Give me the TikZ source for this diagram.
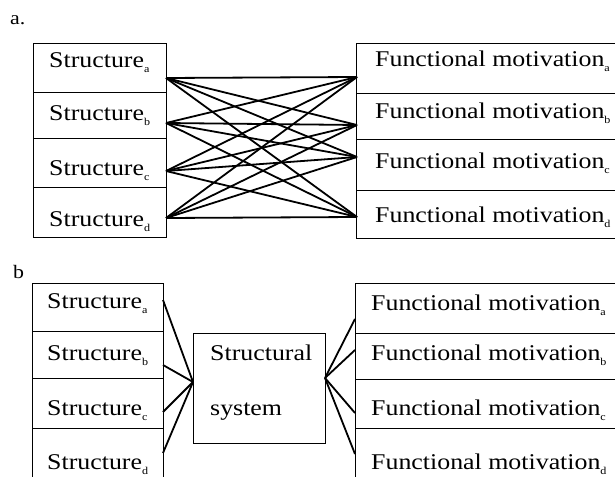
\documentclass[tikz,border=0pt]{standalone}
\usepackage{fontspec}
\setmainfont[FakeStretch=1.15]{Liberation Serif}
\newcommand{\sbs}[1]{\raisebox{-5pt}{\fontsize{10.5}{10.5}\selectfont #1}}
\begin{document}
\begin{tikzpicture}[x=1pt,y=-1pt,
  cell/.style={draw, line width=1.3pt, rectangle, inner sep=0pt, anchor=north west},
  lbl/.style={anchor=base west, inner sep=0pt, font=\fontsize{22.5}{27}\selectfont},
  tag/.style={anchor=base west, inner sep=0pt, font=\fontsize{19}{22}\selectfont},
  link/.style={line width=1.8pt}]
\useasboundingbox (0,0) rectangle (615,476);

% ---------- part a ----------
\node[tag] (taga) at (10,25) {a.};
\node[cell, minimum width=133pt, minimum height=49pt] (La) at (33,43) {};
\node[cell, minimum width=133pt, minimum height=46pt] (Lb) at (33,92) {};
\node[cell, minimum width=133pt, minimum height=49pt] (Lc) at (33,138) {};
\node[cell, minimum width=133pt, minimum height=50pt] (Ld) at (33,187) {};
\node[lbl] (tLa) at (49,68) {Structure\sbs{a}};
\node[lbl] (tLb) at (49,121) {Structure\sbs{b}};
\node[lbl] (tLc) at (49,175) {Structure\sbs{c}};
\node[lbl] (tLd) at (49,226) {Structure\sbs{d}};

\node[cell, minimum width=280pt, minimum height=50pt] (Ra) at (356,43) {};
\node[cell, minimum width=280pt, minimum height=46pt] (Rb) at (356,93) {};
\node[cell, minimum width=280pt, minimum height=51pt] (Rc) at (356,139) {};
\node[cell, minimum width=280pt, minimum height=48pt] (Rd) at (356,190) {};
\node[lbl] (tRa) at (375,67) {Functional motivation\sbs{a}};
\node[lbl] (tRb) at (375,118) {Functional motivation\sbs{b}};
\node[lbl] (tRc) at (375,168) {Functional motivation\sbs{c}};
\node[lbl] (tRd) at (375,222) {Functional motivation\sbs{d}};

\coordinate (pLa) at (166,78);
\coordinate (pLb) at (166,123);
\coordinate (pLc) at (166,171);
\coordinate (pLd) at (166,218);
\coordinate (pRa) at (357,77);
\coordinate (pRb) at (357,125);
\coordinate (pRc) at (357,157);
\coordinate (pRd) at (357,217);
\foreach \i in {a,b,c,d}
  \foreach \j in {a,b,c,d}
    \draw[link] (pL\i) -- (pR\j);

% ---------- part b ----------
\node[tag] (tagb) at (13,278) {b};
\node[cell, minimum width=131pt, minimum height=48pt] (BLa) at (32,283) {};
\node[cell, minimum width=131pt, minimum height=47pt] (BLb) at (32,331) {};
\node[cell, minimum width=131pt, minimum height=50pt] (BLc) at (32,378) {};
\node[cell, minimum width=131pt, minimum height=60pt] (BLd) at (32,428) {};
\node[lbl] (tBLa) at (47,308) {Structure\sbs{a}};
\node[lbl] (tBLb) at (47,360) {Structure\sbs{b}};
\node[lbl] (tBLc) at (47,415) {Structure\sbs{c}};
\node[lbl] (tBLd) at (47,469) {Structure\sbs{d}};

\node[cell, minimum width=132pt, minimum height=110pt] (S) at (193,333) {};
\node[lbl] (tS1) at (210,360) {Structural};
\node[lbl] (tS2) at (210,415) {system};

\node[cell, minimum width=280pt, minimum height=50pt] (BRa) at (355,283) {};
\node[cell, minimum width=280pt, minimum height=46pt] (BRb) at (355,333) {};
\node[cell, minimum width=280pt, minimum height=49pt] (BRc) at (355,379) {};
\node[cell, minimum width=280pt, minimum height=60pt] (BRd) at (355,428) {};
\node[lbl] (tBRa) at (371,310) {Functional motivation\sbs{a}};
\node[lbl] (tBRb) at (371,360) {Functional motivation\sbs{b}};
\node[lbl] (tBRc) at (371,415) {Functional motivation\sbs{c}};
\node[lbl] (tBRd) at (371,469) {Functional motivation\sbs{d}};

\coordinate (qLa) at (163,300);
\coordinate (qLb) at (163,365);
\coordinate (qLc) at (163,412);
\coordinate (qLd) at (163,453);
\coordinate (sL) at (193,382);
\coordinate (sR) at (325,378);
\coordinate (qRa) at (355,319);
\coordinate (qRb) at (355,350);
\coordinate (qRc) at (355,413);
\coordinate (qRd) at (355,454);
\foreach \i in {a,b,c,d} {
  \draw[link] (qL\i) -- (sL);
  \draw[link] (sR) -- (qR\i);
}
\end{tikzpicture}
\end{document}
